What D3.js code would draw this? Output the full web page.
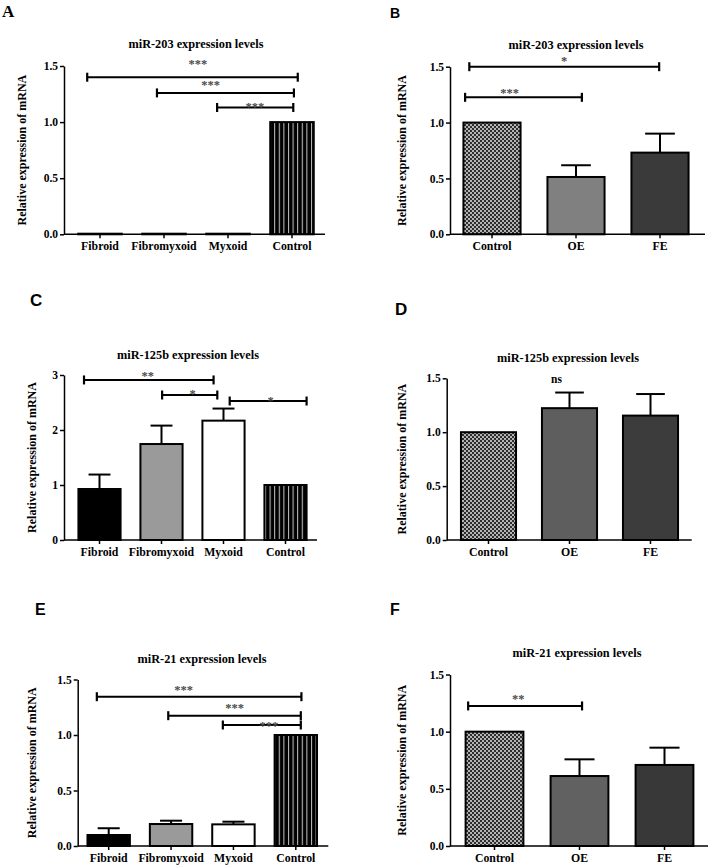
<!DOCTYPE html>
<html><head><meta charset="utf-8">
<script src="https://cdn.jsdelivr.net/npm/d3@7"></script>
<style>body{margin:0;background:#fff}svg{display:block}</style>
</head><body>
<svg id="chart" width="709" height="865"></svg>
<script>
// ---------- DATA ----------
const catsTumor = ["Fibroid", "Fibromyxoid", "Myxoid", "Control"];
const catsCell = ["Control", "OE", "FE"];

const titleA = "miR-203 expression levels";
const titleB = "miR-203 expression levels";
const titleC = "miR-125b expression levels";
const titleD = "miR-125b expression levels";
const titleE = "miR-21 expression levels";
const titleF = "miR-21 expression levels";
const yAxisTitle = "Relative expression of mRNA";

const valsA = [0, 0, 0, 1.0];
const errA  = [0, 0, 0, 0];
const valsB = [1.0, 0.513, 0.731];
const errB  = [0, 0.105, 0.17];
const valsC = [0.927, 1.745, 2.17, 1.0];
const errC  = [0.263, 0.335, 0.22, 0];
const valsD = [1.0, 1.223, 1.154];
const errD  = [0, 0.145, 0.2];
const valsE = [0.099, 0.198, 0.195, 1.0];
const errE  = [0.061, 0.03, 0.024, 0];
const valsF = [1.0, 0.612, 0.709];
const errF  = [0, 0.146, 0.151];

const ticks15 = [0, 0.5, 1.0, 1.5];
const tickLabels15 = ["0.0", "0.5", "1.0", "1.5"];
const ticks3 = [0, 1, 2, 3];
const tickLabels3 = ["0", "1", "2", "3"];

// significance brackets: from/to in category-index units, y in data units, label anchor (lx, ly) in data units
const sigA = [
  {from: -0.2, to: 3.09, y: 1.40, label: "***", lx: 1.53, ly: 1.536},
  {from: 0.89, to: 3.03, y: 1.26, label: "***", lx: 1.73, ly: 1.35},
  {from: 1.83, to: 3.02, y: 1.13, label: "***", lx: 2.42, ly: 1.16}
];
const sigB = [
  {from: -0.27, to: 1.99, y: 1.50, label: "*", lx: 0.86, ly: 1.577},
  {from: -0.32, to: 1.07, y: 1.226, label: "***", lx: 0.21, ly: 1.29}
];
const sigC = [
  {from: -0.25, to: 1.84, y: 2.91, label: "**", lx: 0.78, ly: 3.02},
  {from: 1.01, to: 1.9, y: 2.636, label: "*", lx: 1.5, ly: 2.70},
  {from: 2.1, to: 3.34, y: 2.527, label: "*", lx: 2.76, ly: 2.58}
];
const sigD = [
  {from: null, to: null, y: null, label: "ns", lx: 0.84, ly: 1.49}
];
const sigE = [
  {from: -0.19, to: 3.09, y: 1.345, label: "***", lx: 1.2, ly: 1.43},
  {from: 0.955, to: 3.08, y: 1.174, label: "***", lx: 2.02, ly: 1.27},
  {from: 1.83, to: 3.08, y: 1.09, label: "***", lx: 2.57, ly: 1.105}
];
const sigF = [
  {from: -0.31, to: 1.03, y: 1.225, label: "**", lx: 0.28, ly: 1.31}
];

// ---------- LAYOUT / STYLE ----------
const serif = "'Liberation Serif','Times New Roman',serif";
const sans = "'Liberation Sans',Arial,sans-serif";

const tumorFills = ["#000000", "#9a9a9a", "#ffffff", "url(#stripes)"];
const panels = [
  {letter: "A", lf: serif, ls: 17, lx: 2, ly: 17, title: titleA, tx: 196, ty: 44,
   cats: catsTumor, vals: valsA, errs: errA, sig: sigA, ticks: ticks15, tl: tickLabels15, ymax: 1.5,
   ax: 64, axEnd: 325, band: [68, 324], y0: 234.3, y1: 66, ytx: 22,
   fills: tumorFills},
  {letter: "B", lf: sans, ls: 14, lx: 390, ly: 18, title: titleB, tx: 576, ty: 45,
   cats: catsCell, vals: valsB, errs: errB, sig: sigB, ticks: ticks15, tl: tickLabels15, ymax: 1.5,
   ax: 450, axEnd: 705, band: [450, 702], y0: 234.3, y1: 66.7, ytx: 402,
   fills: ["url(#checker)", "#808080", "#3a3a3a"]},
  {letter: "C", lf: sans, ls: 17, lx: 30, ly: 306, title: titleC, tx: 188, ty: 355,
   cats: catsTumor, vals: valsC, errs: errC, sig: sigC, ticks: ticks3, tl: tickLabels3, ymax: 3,
   ax: 64, axEnd: 317, band: [68.5, 316.5], y0: 540, y1: 375, ytx: 31.5,
   fills: tumorFills},
  {letter: "D", lf: sans, ls: 17, lx: 395, ly: 315, title: titleD, tx: 568, ty: 358,
   cats: catsCell, vals: valsD, errs: errD, sig: sigD, ticks: ticks15, tl: tickLabels15, ymax: 1.5,
   ax: 446.7, axEnd: 691.7, band: [448, 691], y0: 540, y1: 378.3, ytx: 402,
   fills: ["url(#checker)", "#5e5e5e", "#3c3c3c"]},
  {letter: "E", lf: sans, ls: 16, lx: 35, ly: 615, title: titleE, tx: 202, ty: 659,
   cats: catsTumor, vals: valsE, errs: errE, sig: sigE, ticks: ticks15, tl: tickLabels15, ymax: 1.5,
   ax: 77.7, axEnd: 328.3, band: [77.5, 327], y0: 846, y1: 679.5, ytx: 31.5,
   fills: tumorFills},
  {letter: "F", lf: sans, ls: 16, lx: 390, ly: 615, title: titleF, tx: 577, ty: 653,
   cats: catsCell, vals: valsF, errs: errF, sig: sigF, ticks: ticks15, tl: tickLabels15, ymax: 1.5,
   ax: 450, axEnd: 708, band: [452, 707], y0: 846, y1: 674.5, ytx: 402,
   fills: ["url(#checker)", "#616161", "#383838"]}
];

const svg = d3.select("#chart");
const defs = svg.append("defs");
// vertical stripe pattern
const sp = defs.append("pattern").attr("id", "stripes").attr("patternUnits", "userSpaceOnUse")
  .attr("width", 4.6).attr("height", 10);
sp.append("rect").attr("width", 4.6).attr("height", 10).attr("fill", "#000");
sp.append("rect").attr("x", 2.8).attr("width", 1).attr("height", 10).attr("fill", "#c8c8c8");
// checker pattern
const cp = defs.append("pattern").attr("id", "checker").attr("patternUnits", "userSpaceOnUse")
  .attr("width", 4).attr("height", 4);
cp.append("rect").attr("width", 4).attr("height", 4).attr("fill", "#b4b4b4");
cp.append("rect").attr("width", 2).attr("height", 2).attr("fill", "#2e2e2e");
cp.append("rect").attr("x", 2).attr("y", 2).attr("width", 2).attr("height", 2).attr("fill", "#2e2e2e");

panels.forEach(p => {
  const g = svg.append("g");
  const x = d3.scaleBand().domain(p.cats).range(p.band).padding(0);
  const step = x.step();
  const bw = step * 0.68;
  const xi = d3.scaleLinear().domain([0, 1]).range([x(p.cats[0]) + step / 2, x(p.cats[0]) + step * 1.5]);
  const y = d3.scaleLinear().domain([0, p.ymax]).range([p.y0, p.y1]);

  // panel letter
  g.append("text").attr("x", p.lx).attr("y", p.ly).text(p.letter)
    .attr("font-family", p.lf).attr("font-weight", "bold").attr("font-size", p.ls).attr("fill", "#000");
  // title
  g.append("text").attr("x", p.tx).attr("y", p.ty + 4).attr("text-anchor", "middle").text(p.title)
    .attr("font-family", serif).attr("font-weight", "bold").attr("font-size", 12.3).attr("fill", "#000");

  // bars
  p.cats.forEach((c, i) => {
    const cx = x(c) + step / 2;
    const v = p.vals[i];
    const top = y(v);
    const h = Math.max(p.y0 - top, 0.6);
    if (p.errs[i] > 0) {
      const et = y(v + p.errs[i]);
      g.append("line").attr("x1", cx).attr("x2", cx).attr("y1", top).attr("y2", et)
        .attr("stroke", "#000").attr("stroke-width", 2);
      g.append("line").attr("x1", cx - bw * 0.26).attr("x2", cx + bw * 0.26).attr("y1", et).attr("y2", et)
        .attr("stroke", "#000").attr("stroke-width", 2);
    }
    g.append("rect").attr("x", cx - bw / 2).attr("y", p.y0 - h).attr("width", bw).attr("height", h)
      .attr("fill", p.fills[i]).attr("stroke", "#000").attr("stroke-width", 2);
  });

  // y axis
  const yAxis = d3.axisLeft(y).tickValues(p.ticks).tickFormat((d, i) => p.tl[i]).tickSize(4).tickSizeOuter(0);
  const ya = g.append("g").attr("transform", `translate(${p.ax},0)`).call(yAxis);
  ya.select(".domain").attr("stroke", "#000").attr("stroke-width", 1.5);
  ya.selectAll(".tick line").attr("stroke", "#000").attr("stroke-width", 1.5);
  ya.selectAll(".tick text").attr("font-family", serif).attr("font-weight", "bold").attr("font-size", 11.5)
    .attr("fill", "#000").attr("x", -6);

  // x axis
  g.append("line").attr("x1", p.ax).attr("x2", p.axEnd).attr("y1", p.y0).attr("y2", p.y0)
    .attr("stroke", "#000").attr("stroke-width", 1.5);
  p.cats.forEach(c => {
    const cx = x(c) + step / 2;
    g.append("line").attr("x1", cx).attr("x2", cx).attr("y1", p.y0).attr("y2", p.y0 + 4)
      .attr("stroke", "#000").attr("stroke-width", 1.5);
    g.append("text").attr("x", cx).attr("y", p.y0 + 16).attr("text-anchor", "middle").text(c)
      .attr("font-family", serif).attr("font-weight", "bold").attr("font-size", 11.8).attr("fill", "#000");
  });

  // y axis title
  const ymid = (p.y0 + p.y1) / 2;
  g.append("text").attr("transform", `translate(${p.ytx},${ymid}) rotate(-90)`)
    .attr("text-anchor", "middle").attr("dy", "0.35em").text(yAxisTitle)
    .attr("font-family", serif).attr("font-weight", "bold").attr("font-size", 12).attr("fill", "#000");

  // significance
  p.sig.forEach(s => {
    if (s.from !== null) {
      const x1 = xi(s.from), x2 = xi(s.to), yy = y(s.y);
      g.append("line").attr("x1", x1).attr("x2", x2).attr("y1", yy).attr("y2", yy)
        .attr("stroke", "#000").attr("stroke-width", 2);
      [x1, x2].forEach(xx => g.append("line").attr("x1", xx).attr("x2", xx).attr("y1", yy - 4.5).attr("y2", yy + 4.5)
        .attr("stroke", "#000").attr("stroke-width", 2.2));
    }
    const isNs = s.label === "ns";
    g.append("text").attr("x", xi(s.lx)).attr("y", y(s.ly) + (isNs ? 4 : 6.5)).attr("text-anchor", "middle")
      .text(s.label).attr("font-family", serif).attr("font-weight", "bold")
      .attr("font-size", isNs ? 11.5 : 12.5).attr("fill", isNs ? "#000" : "#4a4a4a");
  });
});
</script>
</body></html>
